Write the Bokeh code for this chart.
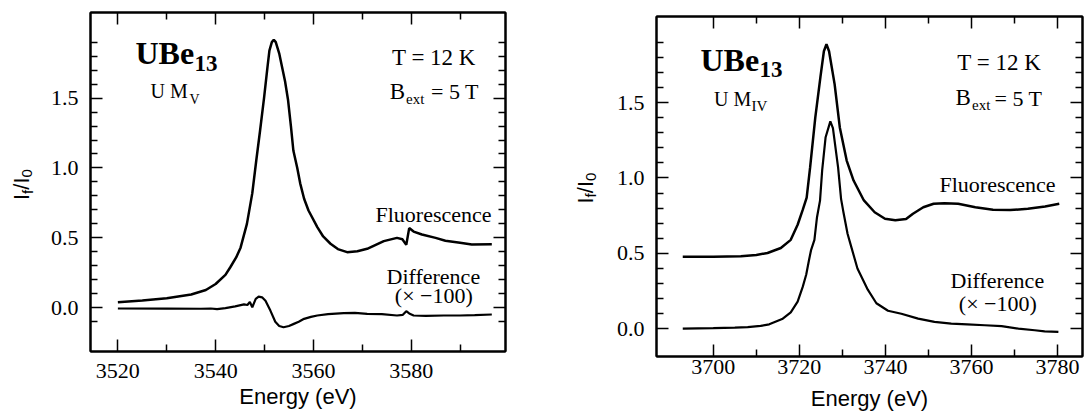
import numpy as np
from bokeh.plotting import figure
from bokeh.models import (Range1d, LinearAxis, FixedTicker, PrintfTickFormatter,
                          CustomJSTickFormatter, Label)
from bokeh.layouts import row
from bokeh.embed import file_html
from bokeh.resources import INLINE

# ---------------- data ----------------
# Left panel: U M_V edge
mv_fluo_e = [3520.0, 3525.0, 3530.0, 3535.0, 3538.0, 3540.0, 3542.0, 3543.0, 3544.2, 3545.1,
             3546.4, 3547.5, 3548.3, 3549.1, 3549.9, 3550.6, 3551.0, 3551.5, 3551.9, 3552.3,
             3553.0, 3553.6, 3554.2, 3554.8, 3555.4, 3555.9, 3556.7, 3557.3, 3558.1, 3559.0,
             3560.8, 3562.0, 3563.5, 3565.0, 3566.9, 3569.0, 3571.0, 3574.4, 3577.1, 3578.2,
             3579.0, 3579.6, 3580.5, 3582.2, 3585.0, 3587.0, 3590.0, 3592.4, 3596.5]
mv_fluo_v = [0.040, 0.053, 0.069, 0.095, 0.127, 0.170, 0.235, 0.290, 0.360, 0.430,
             0.600, 0.820, 1.050, 1.270, 1.500, 1.720, 1.840, 1.900, 1.917, 1.900,
             1.820, 1.720, 1.620, 1.490, 1.300, 1.125, 1.000, 0.890, 0.780, 0.696,
             0.577, 0.510, 0.458, 0.420, 0.398, 0.405, 0.422, 0.477, 0.500, 0.490,
             0.450, 0.570, 0.545, 0.524, 0.500, 0.480, 0.465, 0.453, 0.455]

mv_diff_e = [3520.0, 3530.0, 3537.0, 3539.0, 3540.3, 3542.0, 3544.0, 3545.8, 3546.5, 3547.0,
             3547.5, 3548.2, 3548.8, 3549.5, 3550.2, 3551.2, 3552.2, 3553.0, 3553.9, 3555.0,
             3556.0, 3557.0, 3558.1, 3559.5, 3560.8, 3563.0, 3566.2, 3568.5, 3571.0, 3574.0,
             3577.1, 3578.3, 3579.0, 3579.6, 3580.5, 3583.0, 3586.7, 3590.0, 3593.0, 3596.5]
mv_diff_v = [-0.005, -0.006, -0.007, -0.005, -0.010, -0.002, 0.010, 0.024, 0.020, 0.042,
             0.004, 0.064, 0.080, 0.075, 0.050, -0.020, -0.100, -0.130, -0.139, -0.130,
             -0.115, -0.100, -0.079, -0.065, -0.055, -0.045, -0.038, -0.037, -0.043, -0.045,
             -0.055, -0.050, -0.024, -0.040, -0.055, -0.058, -0.055, -0.055, -0.052, -0.048]

# Right panel: U M_IV edge
miv_fluo_e = [3692.9, 3700.0, 3706.4, 3710.0, 3712.6, 3715.7, 3718.0, 3719.6, 3720.8, 3721.7,
              3722.5, 3723.7, 3724.9, 3725.7, 3726.3, 3726.9, 3728.2, 3729.4, 3731.0, 3732.6,
              3735.0, 3737.5, 3739.9, 3742.3, 3744.8, 3746.4, 3748.8, 3751.2, 3753.7, 3756.9,
              3760.9, 3765.0, 3769.0, 3773.1, 3777.1, 3780.4]
miv_fluo_v = [0.478, 0.478, 0.481, 0.490, 0.503, 0.536, 0.590, 0.690, 0.790, 0.870,
              1.070, 1.400, 1.670, 1.840, 1.886, 1.840, 1.620, 1.335, 1.115, 0.983,
              0.851, 0.773, 0.730, 0.720, 0.728, 0.763, 0.806, 0.829, 0.833, 0.829,
              0.806, 0.789, 0.787, 0.796, 0.811, 0.829]

miv_diff_e = [3692.9, 3700.0, 3705.0, 3708.0, 3711.0, 3713.0, 3716.0, 3718.0, 3719.6, 3720.8,
              3721.6, 3722.2, 3722.7, 3723.5, 3724.1, 3724.8, 3725.3, 3726.1, 3727.2, 3727.8,
              3729.0, 3729.7, 3730.2, 3731.2, 3731.8, 3733.5, 3735.9, 3737.9, 3740.6, 3743.7,
              3747.6, 3751.4, 3755.3, 3759.0, 3763.1, 3767.0, 3770.9, 3774.7, 3777.0, 3780.2]
miv_diff_v = [0.002, 0.005, 0.008, 0.012, 0.020, 0.030, 0.065, 0.110, 0.180, 0.280,
              0.360, 0.450, 0.520, 0.590, 0.740, 0.850, 1.050, 1.270, 1.375, 1.330,
              1.070, 0.860, 0.780, 0.630, 0.570, 0.400, 0.260, 0.170, 0.120, 0.100,
              0.068, 0.046, 0.035, 0.030, 0.024, 0.018, 0.002, -0.009, -0.016, -0.020]

# ticks
y_major = [0.0, 0.5, 1.0, 1.5]
left_y_minor = [-0.1, 0.1, 0.2, 0.3, 0.4, 0.6, 0.7, 0.8, 0.9, 1.1, 1.2, 1.3, 1.4, 1.6, 1.7, 1.8, 1.9]
right_y_minor = [0.1, 0.2, 0.3, 0.4, 0.6, 0.7, 0.8, 0.9, 1.1, 1.2, 1.3, 1.4, 1.6, 1.7, 1.8, 1.9]
left_x_major = [3520, 3540, 3560, 3580]
left_x_minor = [3530, 3550, 3570, 3590]
right_x_major = [3700, 3720, 3740, 3760, 3780]
right_x_minor = [3710, 3730, 3750, 3770]

SERIF = "Liberation Serif"
SANS = "Liberation Sans"
MID = {SERIF: 0.3375, SANS: 0.3465}   # baseline -> box-centre offset (em)


def tick_style(ax):
    ax.major_tick_in = 12
    ax.major_tick_out = 0
    ax.minor_tick_in = 7
    ax.minor_tick_out = 0
    ax.major_tick_line_width = 1.5
    ax.minor_tick_line_width = 1.5
    ax.axis_line_width = 2
    ax.major_tick_line_color = "black"
    ax.minor_tick_line_color = "black"
    ax.axis_line_color = "black"


def make_panel(width, border, xr, yr, xmaj, xmin, ymin_t, xstand, xlab_std):
    bl, br, bt, bb = border
    p = figure(width=width, height=417, output_backend="svg", toolbar_location=None,
               title=None,
               x_range=Range1d(*xr), y_range=Range1d(*yr),
               min_border_left=bl, min_border_right=br, min_border_top=bt, min_border_bottom=bb,
               background_fill_color="white", border_fill_color="white")
    p.frame_align = False
    p.grid.visible = False
    p.outline_line_color = "black"
    p.outline_line_width = 2
    xt = FixedTicker(ticks=xmaj, minor_ticks=xmin)
    yt = FixedTicker(ticks=y_major, minor_ticks=ymin_t)
    bottom = p.below[0]
    left = p.left[0]
    bottom.ticker = xt
    left.ticker = yt
    left.formatter = PrintfTickFormatter(format="%.1f")
    for ax in (bottom, left):
        tick_style(ax)
        ax.major_label_text_font = SERIF
        ax.major_label_text_font_size = "22px"
        ax.major_label_text_color = "black"
    bottom.major_label_standoff = xstand
    left.major_label_standoff = 12
    bottom.axis_label = "Energy (eV)"
    bottom.axis_label_text_font = SANS
    bottom.axis_label_text_font_size = "22px"
    bottom.axis_label_text_font_style = "normal"
    bottom.axis_label_text_color = "black"
    bottom.axis_label_standoff = xlab_std
    blank = CustomJSTickFormatter(code="return ''")
    top = LinearAxis(ticker=xt, formatter=blank, major_label_standoff=0,
                     major_label_text_font_size="1px", major_label_text_color=None)
    right = LinearAxis(ticker=yt, formatter=blank, major_label_standoff=0,
                       major_label_text_font_size="1px", major_label_text_color=None)
    tick_style(top)
    tick_style(right)
    p.add_layout(top, "above")
    p.add_layout(right, "right")
    return p


def text_adder(p, frame, xr, yr, offset):
    """place text by page pixel position of its left end and baseline"""
    fl, ft, fr_, fb = frame

    def add(cx, cy, text, size, font=SERIF, style="normal", align="left"):
        lx = cx - offset
        ly = cy - MID[font] * size
        x = xr[0] + (lx - fl) / (fr_ - fl) * (xr[1] - xr[0])
        y = yr[1] - (ly - ft) / (fb - ft) * (yr[1] - yr[0])
        p.add_layout(Label(x=x, y=y, text=text, text_font=font, text_font_size=f"{size}px",
                           text_font_style=style, text_align=align, text_baseline="middle",
                           text_color="black"))
    return add


def strip(width):
    s = figure(width=width, height=417, output_backend="svg", toolbar_location=None,
               title=None,
               x_range=Range1d(0, width), y_range=Range1d(0, 417),
               x_axis_location=None, y_axis_location=None, min_border=0,
               outline_line_color=None, background_fill_color="white",
               border_fill_color="white")
    s.frame_align = False
    s.grid.visible = False
    return s


def ylabel(s, bx, by):
    # rotated "I_f/I_0", reading bottom to top; bx = baseline x, by = start y (page px)
    pieces = [("I", 22, 0.0, 0.278), ("f", 15, 3.0, 0.278), ("/", 22, 0.0, 0.278),
              ("I", 22, 0.0, 0.278), ("0", 15, 3.0, 0.556)]
    y = by
    for t, sz, dx, w in pieces:
        x = bx + dx - MID[SANS] * sz
        s.add_layout(Label(x=x, y=417 - y, text=t, text_font=SANS, text_font_size=f"{sz}px",
                           text_align="left", text_baseline="middle", angle=np.pi / 2,
                           text_color="black"))
        y -= w * sz


# ---------------- layout geometry ----------------
S1_W = 40
P1_W = 495
S2_W = 65
P2_W = 1084 - S1_W - P1_W - S2_W
P1_OFF = S1_W
P2_OFF = S1_W + P1_W + S2_W

# ---------------- left panel ----------------
L_FRAME = (50, 12, 465, 351)
L_XR = (3514.4, 3599.3)
L_YR = (-0.3126, 2.112)
p1 = make_panel(P1_W, (50, 30, 12, 66), L_XR, L_YR, left_x_major, left_x_minor,
                left_y_minor, 12, 3)
p1.line(mv_fluo_e, mv_fluo_v, line_color="black", line_width=2.5)
p1.line(mv_diff_e, mv_diff_v, line_color="black", line_width=2.2)
a1 = text_adder(p1, L_FRAME, L_XR, L_YR, P1_OFF)
a1(135, 63.3, "UBe", 32, style="bold")
a1(194, 70.5, "13", 23, style="bold")
a1(150, 97, "U M", 20)
a1(189, 104, "V", 14)
a1(391.5, 65, "T = 12 K", 23)
a1(389.3, 98.3, "B", 23)
a1(405.5, 103.3, "ext", 15)
a1(430.5, 98.3, "= 5 T", 22)
a1(375, 221.7, "Fluorescence", 22)
a1(386, 283.3, "Difference", 22)
a1(394.3, 302, "(\u00d7 \u2212100)", 22)

s1 = strip(S1_W)
ylabel(s1, 29, 199.5)

# ---------------- right panel ----------------
R_FRAME = (56, 16, 482, 356)
R_XR = (3686.8, 3785.8)
R_YR = (-0.183, 2.07)
p2 = make_panel(P2_W, (56, 2, 16, 61), R_XR, R_YR, right_x_major, right_x_minor,
                right_y_minor, 3, 9)
p2.line(miv_fluo_e, miv_fluo_v, line_color="black", line_width=2.5)
p2.line(miv_diff_e, miv_diff_v, line_color="black", line_width=2.2)
a2 = text_adder(p2, R_FRAME, R_XR, R_YR, P2_OFF)
a2(700, 70, "UBe", 32, style="bold")
a2(759, 77, "13", 23, style="bold")
a2(713.5, 105, "U M", 20)
a2(751, 111, "IV", 15)
a2(956.8, 70, "T = 12 K", 23)
a2(955, 105, "B", 23)
a2(971.5, 110, "ext", 15)
a2(994, 105, "= 5 T", 22)
a2(939, 191.7, "Fluorescence", 22)
a2(950, 287.3, "Difference", 22)
a2(958.3, 310, "(\u00d7 \u2212100)", 22)

s2 = strip(S2_W)
ylabel(s2, 592.5 - (S1_W + P1_W), 203)

layout = row(s1, p1, s2, p2)
open("out.html", "w").write(file_html(layout, INLINE))
